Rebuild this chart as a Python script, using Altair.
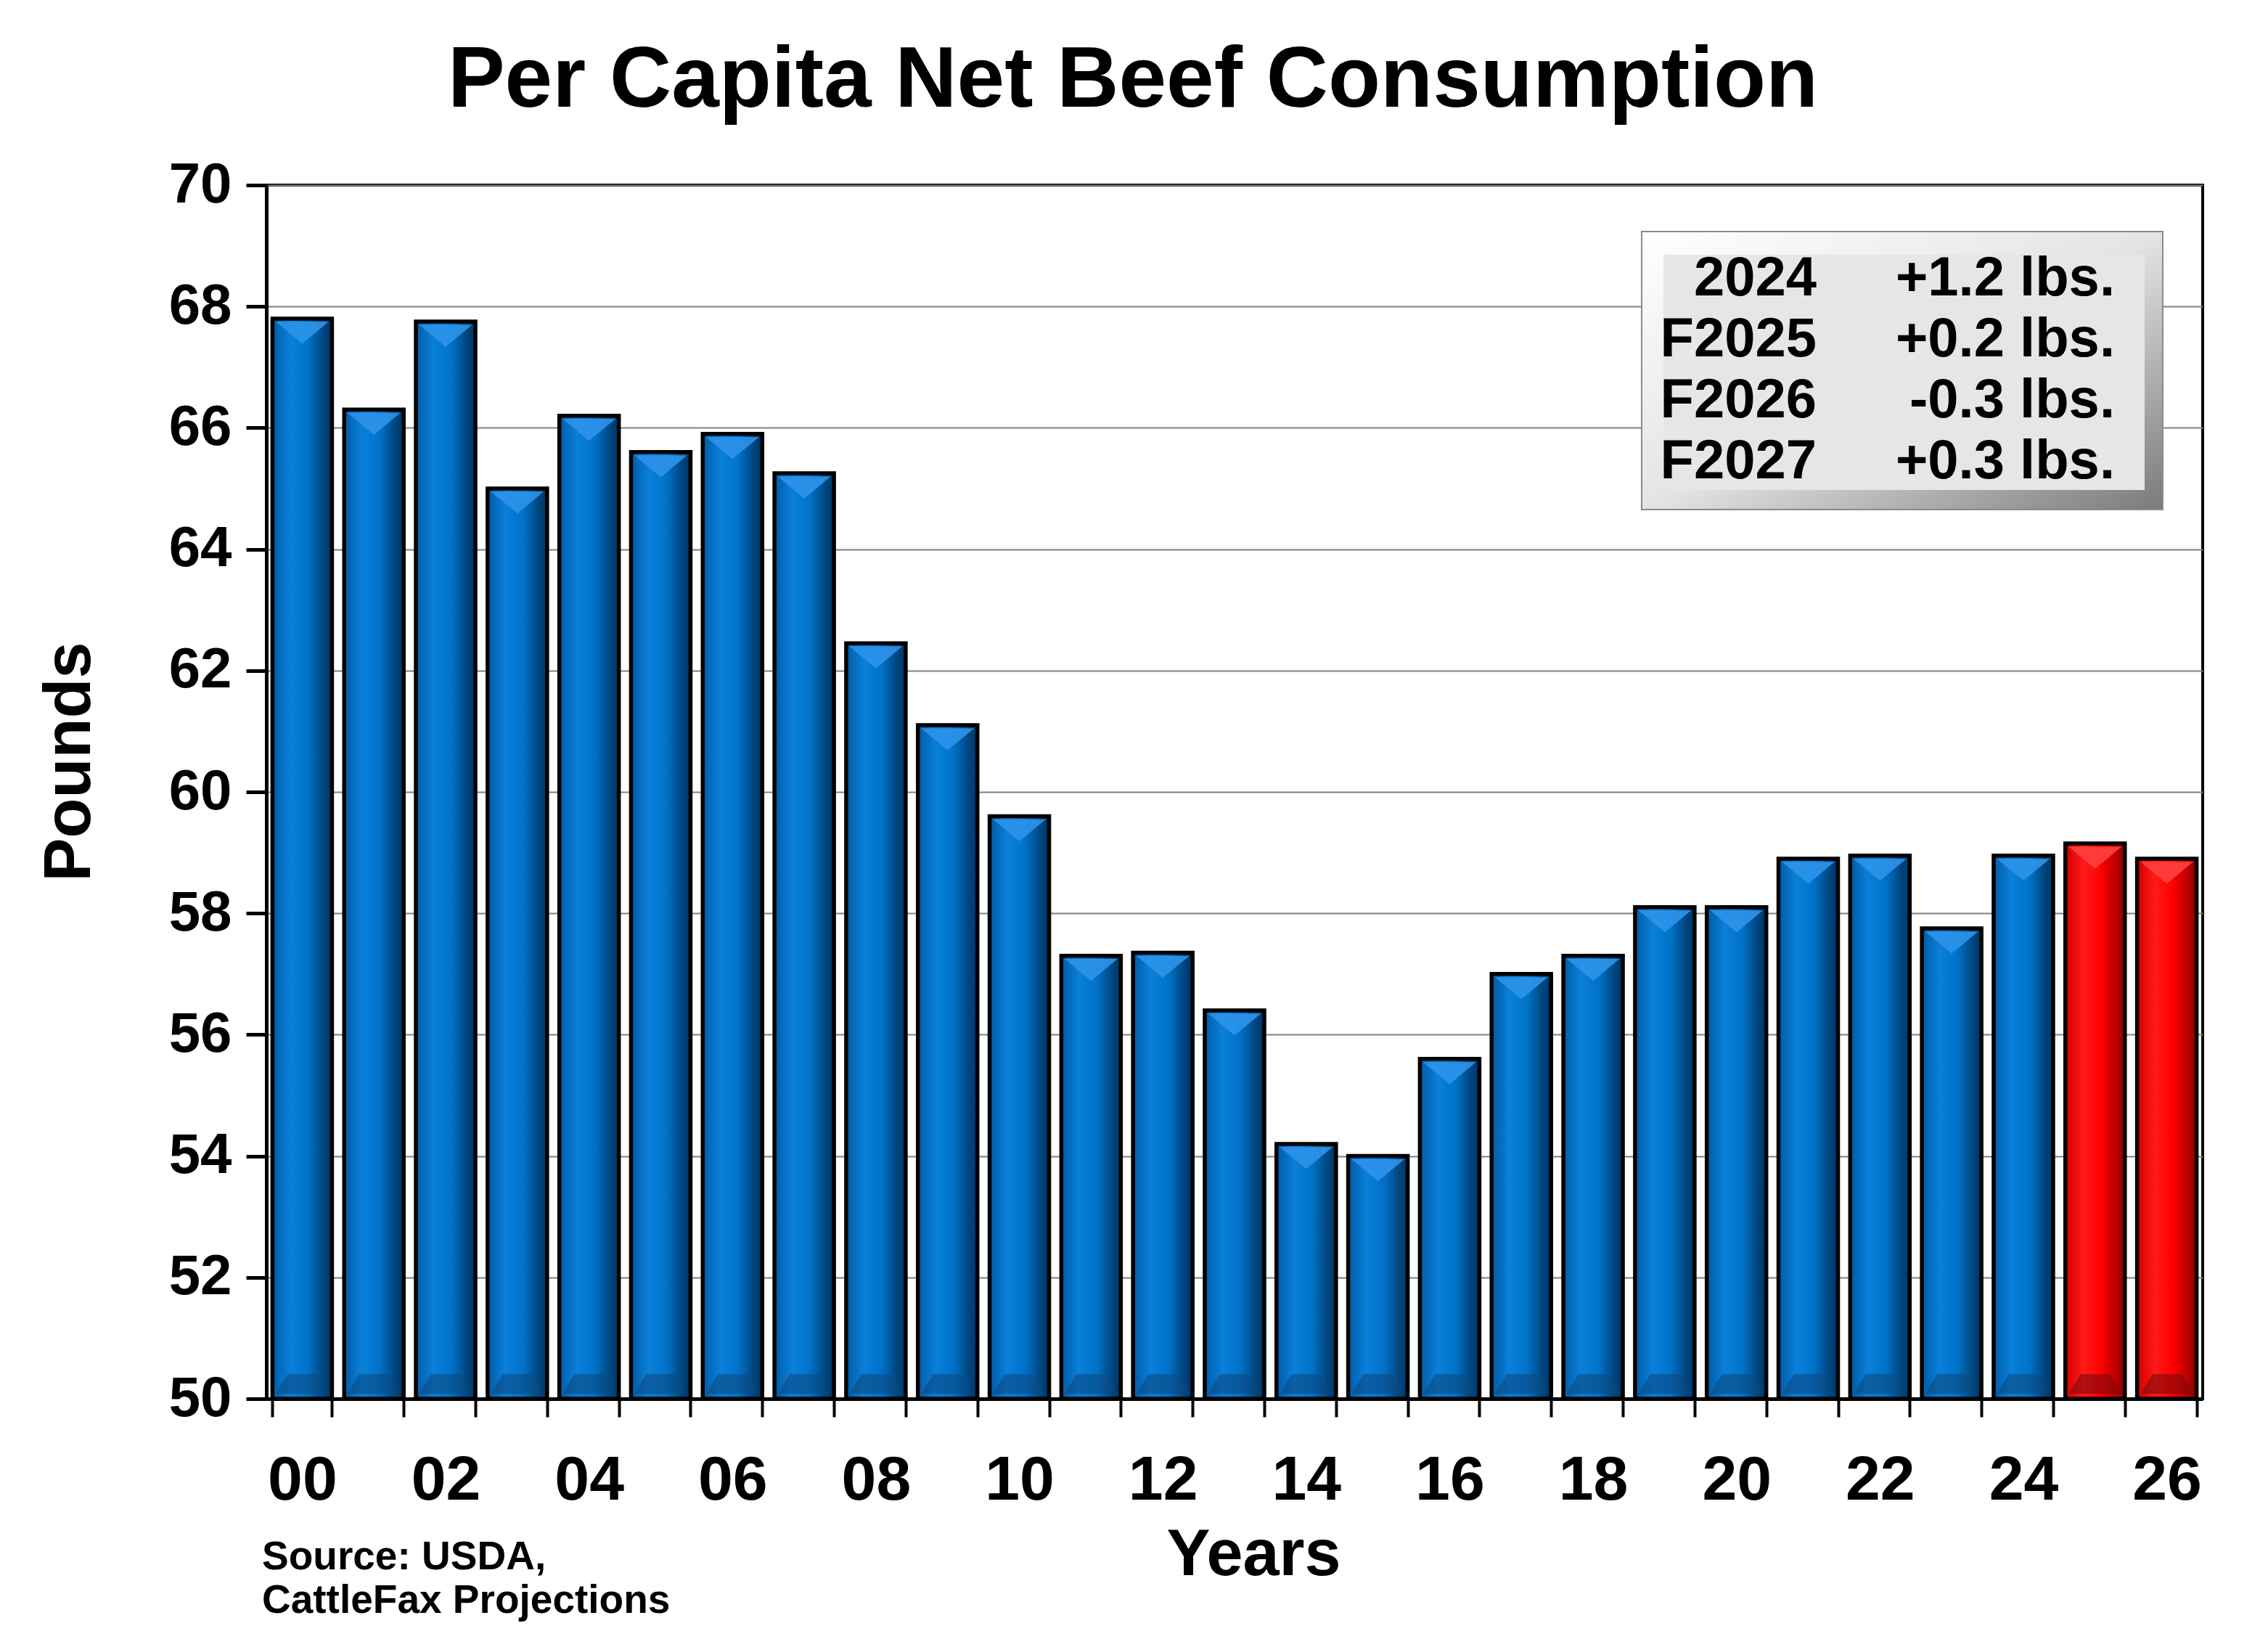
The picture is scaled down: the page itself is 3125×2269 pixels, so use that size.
import altair as alt
import pandas as pd

# ---- data ----
years = ["00", "01", "02", "03", "04", "05", "06", "07", "08", "09",
         "10", "11", "12", "13", "14", "15", "16", "17", "18", "19",
         "20", "21", "22", "23", "24", "25", "26"]
values = [67.8, 66.3, 67.75, 65.0, 66.2, 65.6, 65.9, 65.25, 62.45, 61.1,
          59.6, 57.3, 57.35, 56.4, 54.2, 54.0, 55.6, 57.0, 57.3, 58.1,
          58.1, 58.9, 58.95, 57.75, 58.95, 59.15, 58.9]
kinds = ["Actual"] * 25 + ["Forecast"] * 2

y_ticks = [50, 52, 54, 56, 58, 60, 62, 64, 66, 68, 70]
legend_years = ["2024", "F2025", "F2026", "F2027"]
legend_changes = ["+1.2 lbs.", "+0.2 lbs.", "-0.3 lbs.", "+0.3 lbs."]
source_lines = ["Source: USDA,", "CattleFax Projections"]
title_text = "Per Capita Net Beef Consumption"

df = pd.DataFrame({"year": years, "value": values, "kind": kinds})
one = pd.DataFrame({"a": [0]})

FONT = "Liberation Sans"
W, H = 2668, 1672

blue_grad = alt.Gradient(
    gradient="linear", x1=0, x2=1, y1=0, y2=0,
    stops=[alt.GradientStop(color="#005ba6", offset=0),
           alt.GradientStop(color="#0a80da", offset=0.3),
           alt.GradientStop(color="#0072c8", offset=0.6),
           alt.GradientStop(color="#00467f", offset=0.85),
           alt.GradientStop(color="#003462", offset=1)])
red_grad = alt.Gradient(
    gradient="linear", x1=0, x2=1, y1=0, y2=0,
    stops=[alt.GradientStop(color="#d00000", offset=0),
           alt.GradientStop(color="#ff1a1a", offset=0.3),
           alt.GradientStop(color="#ff0000", offset=0.6),
           alt.GradientStop(color="#b80000", offset=0.85),
           alt.GradientStop(color="#8c0000", offset=1)])

x_enc = alt.X(
    "year:O", sort=years,
    scale=alt.Scale(paddingInner=0.17, paddingOuter=0.085),
    axis=alt.Axis(
        title="Years", titleFontSize=90, titleFont=FONT, titleFontWeight="bold",
        titleColor="black", titlePadding=16, titleX=W / 2 + 26,
        labelAngle=0, labelFontSize=86, labelFont=FONT, labelFontWeight="bold",
        labelColor="black", labelPadding=45, labelOverlap=False,
        labelExpr="toNumber(datum.value) % 2 == 0 ? datum.value : ''",
        tickBand="extent", tickSize=25, tickWidth=4, tickColor="black",
        domainColor="black", domainWidth=5, grid=False))
y_enc = alt.Y(
    "value:Q",
    scale=alt.Scale(domain=[50, 70], zero=False, nice=False),
    axis=alt.Axis(
        title="Pounds", titleFontSize=90, titleFont=FONT, titleFontWeight="bold",
        titleColor="black", titlePadding=90, titleY=H / 2 - 42,
        values=y_ticks, format="d", labelFontSize=78, labelFont=FONT, labelFontWeight="bold",
        labelColor="black", labelPadding=20,
        tickSize=28, tickWidth=5, tickColor="black",
        domainColor="black", domainWidth=5,
        grid=True, gridColor="#808080", gridWidth=2))

base = alt.Chart(df)

bars_blue = base.transform_filter(alt.datum.kind == "Actual").mark_bar(
    fill=blue_grad, stroke="black", strokeWidth=5.5).encode(x=x_enc, y=y_enc, y2=alt.datum(50))
bars_red = base.transform_filter(alt.datum.kind == "Forecast").mark_bar(
    fill=red_grad, stroke="black", strokeWidth=5.5).encode(x=x_enc, y=y_enc, y2=alt.datum(50))

top_shape = "M-1,0.12 L1,0.12 L0,0.95 Z"
bot_shape = "M-1,0 L1,0 L0.55,-0.75 L-0.55,-0.75 Z"

hi_blue = base.transform_filter(alt.datum.kind == "Actual").mark_point(
    shape=top_shape, filled=True, fill="#2d93ea", opacity=0.9, size=5300, strokeWidth=0
).encode(x=x_enc, y=y_enc)
hi_red = base.transform_filter(alt.datum.kind == "Forecast").mark_point(
    shape=top_shape, filled=True, fill="#ff4040", opacity=0.9, size=5300, strokeWidth=0
).encode(x=x_enc, y=y_enc)
lo_blue = base.transform_filter(alt.datum.kind == "Actual").mark_point(
    shape=bot_shape, filled=True, fill="#0b4a80", opacity=0.6, size=5300, strokeWidth=0
).encode(x=x_enc, y=alt.datum(50.08))
lo_red = base.transform_filter(alt.datum.kind == "Forecast").mark_point(
    shape=bot_shape, filled=True, fill="#7a0a0a", opacity=0.6, size=5300, strokeWidth=0
).encode(x=x_enc, y=alt.datum(50.08))

# ---- annotation box ----
box_grad = alt.Gradient(
    gradient="linear", x1=0, y1=0, x2=1, y2=1,
    stops=[alt.GradientStop(color="#ffffff", offset=0),
           alt.GradientStop(color="#e4e4e4", offset=0.5),
           alt.GradientStop(color="#7a7a7a", offset=1)])
box_outer = alt.Chart(one).mark_rect(fill=box_grad, stroke="#8a8a8a", strokeWidth=2).encode(
    x=alt.value(1895), x2=alt.value(2613), y=alt.value(64), y2=alt.value(447))
box_inner = alt.Chart(one).mark_rect(fill="#e6e6e6").encode(
    x=alt.value(1925), x2=alt.value(2588), y=alt.value(96), y2=alt.value(420))

leg_left = alt.Chart(one).mark_text(
    text="\n".join(legend_years), lineBreak="\n", lineHeight=84,
    font=FONT, fontWeight="bold", fontSize=76, color="black",
    align="right", baseline="alphabetic").encode(x=alt.value(2136), y=alt.value(152))
leg_right = alt.Chart(one).mark_text(
    text="\n".join(legend_changes), lineBreak="\n", lineHeight=84,
    font=FONT, fontWeight="bold", fontSize=76, color="black",
    align="right", baseline="alphabetic").encode(x=alt.value(2547), y=alt.value(152))

source = alt.Chart(one).mark_text(
    text="\n".join(source_lines), lineBreak="\n", lineHeight=60,
    font=FONT, fontWeight="bold", fontSize=55, color="black",
    align="left", baseline="alphabetic").encode(x=alt.value(-6), y=alt.value(1907))

chart = alt.layer(
    bars_blue, bars_red, hi_blue, hi_red, lo_blue, lo_red,
    box_outer, box_inner, leg_left, leg_right, source
).properties(
    width=W, height=H,
    title=alt.TitleParams(
        text=title_text, fontSize=118, font=FONT, fontWeight="bold", color="black",
        anchor="middle", dx=-140, offset=-49, frame="group", baseline="alphabetic"),
    autosize=alt.AutoSizeParams(type="none"),
    padding={"left": 367, "top": 255, "right": 90, "bottom": 342},
    background="white",
).configure_view(stroke="black", strokeWidth=4)

chart.save("out.html", embed_options={"renderer": "svg", "actions": False})
